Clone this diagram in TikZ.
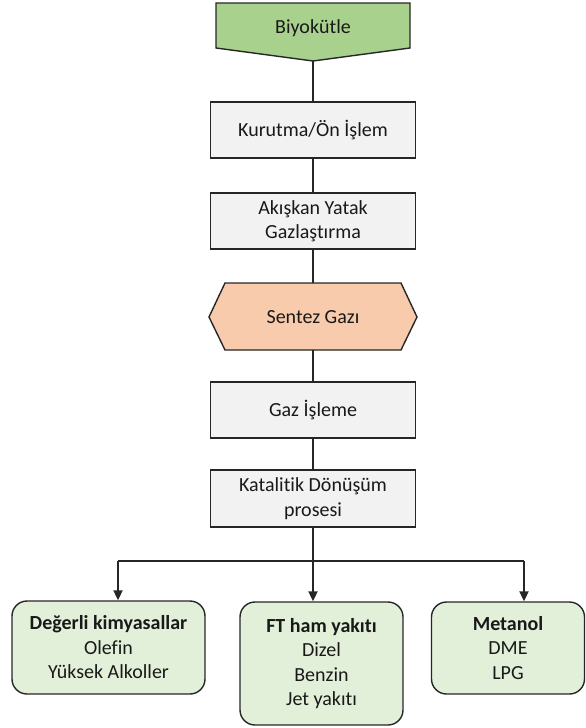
\documentclass[tikz,border=0pt]{standalone}
\usepackage{fontspec}
\setmainfont{Carlito}[Ligatures={NoCommon,NoContextual}]
\usetikzlibrary{arrows.meta}
\definecolor{boxgray}{HTML}{F2F2F2}
\definecolor{biogreen}{HTML}{A9D18E}
\definecolor{syngas}{HTML}{F8CBAD}
\definecolor{prodgreen}{HTML}{E2F0D9}
\definecolor{edge}{HTML}{262626}
\tikzset{
  procbox/.style={draw=edge, line width=1.4pt, fill=boxgray, minimum width=205pt, minimum height=56pt, align=center, inner sep=2pt},
  prodbox/.style={draw=edge, line width=1.4pt, fill=prodgreen, rounded corners=15pt, align=center, inner sep=2pt},
  shapeline/.style={draw=edge, line width=1.4pt},
  link/.style={draw=edge, line width=2pt},
  arr/.style={link, -{Triangle[width=9pt,length=10pt]}},
}
\begin{document}
\begin{tikzpicture}[x=1pt,y=-1pt,font=\fontsize{20}{24.5}\selectfont,text=black!90]
\useasboundingbox (0,0) rectangle (586,728);
% Biyokutle
\draw[shapeline, fill=biogreen] (216,3) -- (410,3) -- (410,48) -- (313,61) -- (216,48) -- cycle;
\coordinate (biotip) at (313,61);
\node[inner sep=0pt] (bio) at (313,28) {Biyokütle};
% process boxes
\node[procbox] (kur) at (313,130) {Kurutma/Ön İşlem};
\node[procbox] (aki) at (313,221) {Akışkan Yatak\\Gazlaştırma};
% Sentez gazi hexagon
\draw[shapeline, fill=syngas] (209,317) -- (225,283) -- (401,283) -- (417,317) -- (401,350) -- (225,350) -- cycle;
\coordinate (hexN) at (313,283);
\coordinate (hexS) at (313,350);
\node[inner sep=0pt] (syn) at (313,317) {Sentez Gazı};
\node[procbox] (gaz) at (313,410) {Gaz İşleme};
\node[procbox, minimum height=57pt] (kat) at (313,498.5) {Katalitik Dönüşüm\\prosesi};
% products
\node[prodbox, minimum width=193pt, minimum height=93pt] (left) at (108.5,647.5) {\textbf{Değerli kimyasallar}\\Olefin\\Yüksek Alkoller};
\node[prodbox, minimum width=163pt, minimum height=123pt] (mid) at (321.5,663.5) {\textbf{FT ham yakıtı}\\Dizel\\Benzin\\Jet yakıtı};
\node[prodbox, minimum width=153pt, minimum height=92pt] (right) at (508,648) {\textbf{Metanol}\\DME\\LPG};
% connectors
\draw[link] (biotip) -- (kur.north);
\draw[link] (kur.south) -- (aki.north);
\draw[link] (aki.south) -- (hexN);
\draw[link] (hexS) -- (gaz.north);
\draw[link] (gaz.south) -- (kat.north);
\coordinate (split) at (313,561);
\coordinate (jl) at (118,561);
\coordinate (jr) at (524,561);
\draw[link] (kat.south) -- (split);
\draw[link] (jl) -- (jr);
\draw[arr] (jl) -- (jl |- left.north);
\draw[arr] (split) -- (split |- mid.north);
\draw[arr] (jr) -- (jr |- right.north);
\end{tikzpicture}
\end{document}
